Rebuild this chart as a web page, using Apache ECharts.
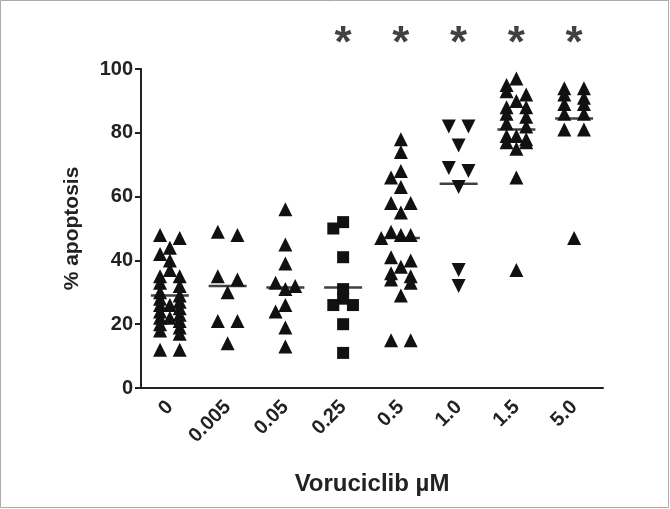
<!DOCTYPE html>
<html>
<head>
<meta charset="utf-8">
<script src="https://cdn.jsdelivr.net/npm/echarts@6/dist/echarts.min.js"></script>
<style>
html, body { margin: 0; padding: 0; background: #fff; }
#chart { width: 670px; height: 509px; }
</style>
</head>
<body>
<div id="chart"></div>
<script>
// doses on the x axis
var doses = ['0', '0.005', '0.05', '0.25', '0.5', '1.0', '1.5', '5.0'];

// % apoptosis per dose
var g0 = [48, 47, 44, 42, 40, 37, 35, 35, 33, 32, 30, 29, 28, 27, 26, 26, 25, 24, 23, 22, 22, 21, 20, 19, 18, 17, 12, 12];
var g0005 = [49, 48, 35, 34, 30, 21, 21, 14];
var g005 = [56, 45, 39, 33, 32, 31, 26, 24, 19, 13];
var g025 = [52, 50, 41, 31, 28, 26, 26, 20, 11];
var g05 = [78, 74, 68, 66, 63, 58, 58, 55, 49, 48, 48, 47, 41, 40, 38, 36, 35, 34, 33, 29, 15, 15];
var g10 = [82, 82, 76, 69, 68, 63, 37, 32];
var g15 = [97, 95, 93, 92, 90, 88, 88, 86, 85, 83, 82, 79, 79, 78, 77, 77, 75, 66, 37];
var g50 = [94, 94, 92, 91, 89, 89, 86, 86, 81, 81, 47];
var groups = [g0, g0005, g005, g025, g05, g10, g15, g50];

// horizontal bars drawn in the figure
var medians = [29, 32, 31.5, 31.5, 47, 64, 81, 84.5];

// doses marked with *
var starred = ['0.25', '0.5', '1.0', '1.5', '5.0'];

var yMin = 0, yMax = 100, yStep = 20;

// simple row-based spread, like a column scatter plot
var colStep = 0.17;      // in category units (~10px)
var pxPerUnit = 3.19;    // y pixels per % on this grid
function spread(vals, gi) {
  var sorted = vals.slice().sort(function (a, b) { return b - a; });
  var rows = [];
  sorted.forEach(function (v) {
    var last = rows[rows.length - 1];
    if (last && last.length < 3 && Math.abs(last[0] - v) <= 1.2) last.push(v);
    else rows.push([v]);
  });
  var placed = [];
  function gap(c, v) {
    var d = Infinity;
    placed.forEach(function (p) {
      if (p.c === c) d = Math.min(d, Math.abs(p.v - v) * pxPerUnit);
    });
    return d;
  }
  rows.forEach(function (row) {
    var cols;
    if (row.length === 1) {
      var best = 0, bestD = -1;
      [0, -1, 1, -2, 2].some(function (c) {
        var d = gap(c, row[0]);
        if (d >= 7) { best = c; bestD = d; return true; }
        if (d > bestD) { best = c; bestD = d; }
        return false;
      });
      cols = [best];
    } else if (row.length === 2) {
      cols = [-1, 1];
    } else {
      cols = [-1, 0, 1];
    }
    row.forEach(function (v, i) { placed.push({ c: cols[i], v: v }); });
  });
  return placed.map(function (p) { return [gi + p.c * colStep, p.v]; });
}

var series = groups.map(function (vals, gi) {
  var shape = doses[gi] === '0.25' ? 'rect' : 'triangle';
  return {
    type: 'scatter',
    xAxisIndex: 1,
    symbol: shape,
    symbolRotate: doses[gi] === '1.0' ? 180 : 0,
    symbolSize: shape === 'rect' ? 12 : 14,
    itemStyle: { color: '#111', opacity: 1 },
    data: spread(vals, gi),
    silent: true
  };
});

series.push({
  type: 'scatter',
  xAxisIndex: 1,
  symbol: 'rect',
  symbolSize: [38, 2.5],
  itemStyle: { color: '#111' },
  data: medians.map(function (m, i) { return [i, m]; }),
  z: 3
});

series.push({
  type: 'scatter',
  xAxisIndex: 1,
  clip: false,
  symbolSize: 1,
  itemStyle: { color: 'rgba(0,0,0,0)' },
  label: {
    show: true,
    position: 'inside',
    formatter: '*',
    fontFamily: 'Liberation Sans',
    fontWeight: 'bold',
    fontSize: 44,
    color: '#111'
  },
  data: starred.map(function (d) { return [doses.indexOf(d), 107.5]; })
});

var chart = echarts.init(document.getElementById('chart'));
chart.setOption({
  animation: false,
  textStyle: { fontFamily: 'Liberation Sans' },
  graphic: [{
    type: 'rect',
    shape: { x: 0.5, y: 0.5, width: 668, height: 507 },
    style: { fill: 'none', stroke: '#aaa', lineWidth: 1 }
  }],
  grid: { left: 141, top: 69, right: 67, bottom: 121 },
  xAxis: [{
    type: 'category',
    data: doses,
    name: 'Voruciclib µM',
    nameLocation: 'middle',
    nameGap: 84,
    nameTextStyle: { fontSize: 24, fontWeight: 'bold', color: '#222' },
    axisLine: { lineStyle: { color: '#222', width: 2 } },
    axisTick: { alignWithLabel: true, length: 6, lineStyle: { color: '#222', width: 2 } },
    axisLabel: { rotate: 45, fontSize: 20, fontWeight: 'bold', color: '#222', margin: 16 },
    splitLine: { show: false }
  }, {
    type: 'value',
    min: -0.5,
    max: 7.5,
    show: false
  }],
  yAxis: {
    type: 'value',
    min: yMin,
    max: yMax,
    interval: yStep,
    name: '% apoptosis',
    nameLocation: 'middle',
    nameGap: 58,
    nameRotate: 90,
    nameTextStyle: { fontSize: 21, fontWeight: 'bold', color: '#222' },
    axisLine: { show: true, onZero: false, lineStyle: { color: '#222', width: 2 } },
    axisTick: { show: true, length: 6, lineStyle: { color: '#222', width: 2 } },
    axisLabel: { fontSize: 20, fontWeight: 'bold', color: '#222', margin: 8 },
    splitLine: { show: false }
  },
  series: series
});
</script>
</body>
</html>
